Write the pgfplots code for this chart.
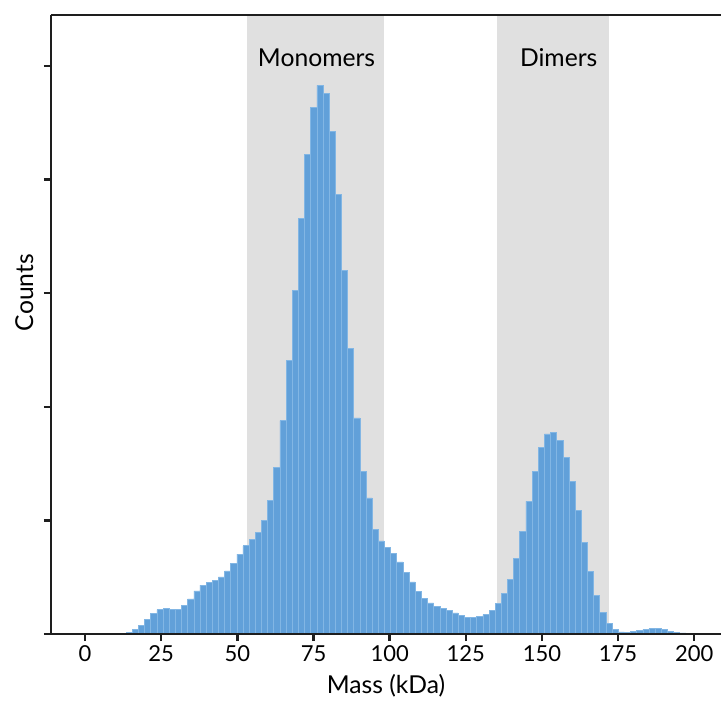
\documentclass[border=0pt]{standalone}
\usepackage{fontspec}
\setmainfont{Lato}
\usepackage{pgfplots}
\usepackage{pgfplotstable}
\pgfplotsset{compat=1.18}

\definecolor{barblue}{RGB}{97,160,217}
\definecolor{baredge}{RGB}{130,182,228}
\definecolor{band}{RGB}{224,224,224}
\definecolor{spine}{RGB}{30,30,30}

% left bin edge (kDa) and count; last row closes the final bin
\pgfplotstableread{
x y
13.46 1.5
15.48 4.1
17.50 7.9
19.52 13.2
21.54 17.9
23.56 21.4
25.58 22.4
27.60 21.6
29.62 21.8
31.64 25.1
33.66 31.0
35.68 37.9
37.70 43.0
39.72 45.5
41.74 47.4
43.76 50.2
45.78 55.5
47.79 62.5
49.81 70.4
51.83 77.7
53.85 83.4
55.87 89.8
57.89 100.1
59.91 117.6
61.93 146.7
63.95 187.8
65.97 241.2
67.99 302.6
70.01 365.6
72.03 422.5
74.05 463.9
76.07 483.0
78.09 475.8
80.11 442.3
82.13 387.3
84.15 320.4
86.17 251.5
88.19 190.3
90.21 143.1
92.23 119.8
94.25 92.1
96.27 81.9
98.29 76.1
100.31 70.7
102.33 63.4
104.35 54.4
106.37 45.8
108.39 37.4
110.41 31.1
112.43 27.3
114.45 24.4
116.46 22.3
118.48 20.9
120.50 18.5
122.52 16.1
124.54 14.7
126.56 14.3
128.58 15.2
130.60 17.0
132.62 21.1
134.64 27.0
136.66 36.1
138.68 48.4
140.70 66.3
142.72 90.2
144.74 116.8
146.76 143.5
148.78 164.3
150.80 176.1
152.82 177.5
154.84 170.2
156.86 155.8
158.88 134.7
160.90 108.9
162.92 81.0
164.94 54.8
166.96 34.1
168.98 18.8
171.00 9.4
173.02 4.1
175.04 1.8
177.06 1.5
179.08 2.4
181.10 3.3
183.12 4.1
185.13 4.7
187.15 4.7
189.17 3.8
191.19 2.6
193.21 1.5
195.23 0.9
197.25 0
}\masses

\begin{document}
\begin{tikzpicture}
\begin{axis}[
  scale only axis,
  width=502.5pt, height=464.25pt,
  xmin=-11.2, xmax=208.8,
  ymin=0, ymax=545,
  axis x line=box, axis y line=left,
  axis line style={spine, line width=2pt, -},
  xtick={0,25,...,200},
  ytick={0,100,...,500},
  yticklabels={},
  xtick pos=left, ytick pos=left,
  tick align=outside,
  major tick length=5.25pt,
  every tick/.style={spine, line width=1.8pt},
  ticklabel style={font=\fontsize{16.5}{18}\selectfont},
  /pgf/number format/assume math mode=true,
  xticklabel style={anchor=base, yshift=-15pt},
  axis on top,
  clip=false,
]
% shaded regions
\addplot[draw=none, fill=band] coordinates {(53,545) (98,545)} \closedcycle;
\addplot[draw=none, fill=band] coordinates {(135.1,545) (172.1,545)} \closedcycle;

% histogram
\addplot[ybar interval, fill=barblue, draw=baredge, line width=0.4pt]
  table[x=x, y=y] {\masses};

\node[anchor=base, font=\fontsize{18.5}{20}\selectfont] at (axis cs:76,500) {Monomers};
\node[anchor=base, font=\fontsize{18.5}{20}\selectfont] at (axis cs:155.5,500) {Dimers};

\coordinate (xl) at (rel axis cs:0.5,0);
\coordinate (yl) at (rel axis cs:0,0.5);
\coordinate (sw) at (rel axis cs:0,0);
\coordinate (ne) at (rel axis cs:1,1);
\end{axis}
\node[anchor=base, font=\fontsize{18.5}{20}\selectfont] at ([yshift=-44.25pt]xl) {Mass (kDa)};
\node[rotate=90, anchor=base, font=\fontsize{18.5}{20}\selectfont] at ([xshift=-13.5pt,yshift=24pt]yl) {Counts};
\pgfresetboundingbox
\path ([xshift=-38.25pt,yshift=-50.25pt]sw) rectangle ([yshift=11.25pt]ne);
\end{tikzpicture}
\end{document}
